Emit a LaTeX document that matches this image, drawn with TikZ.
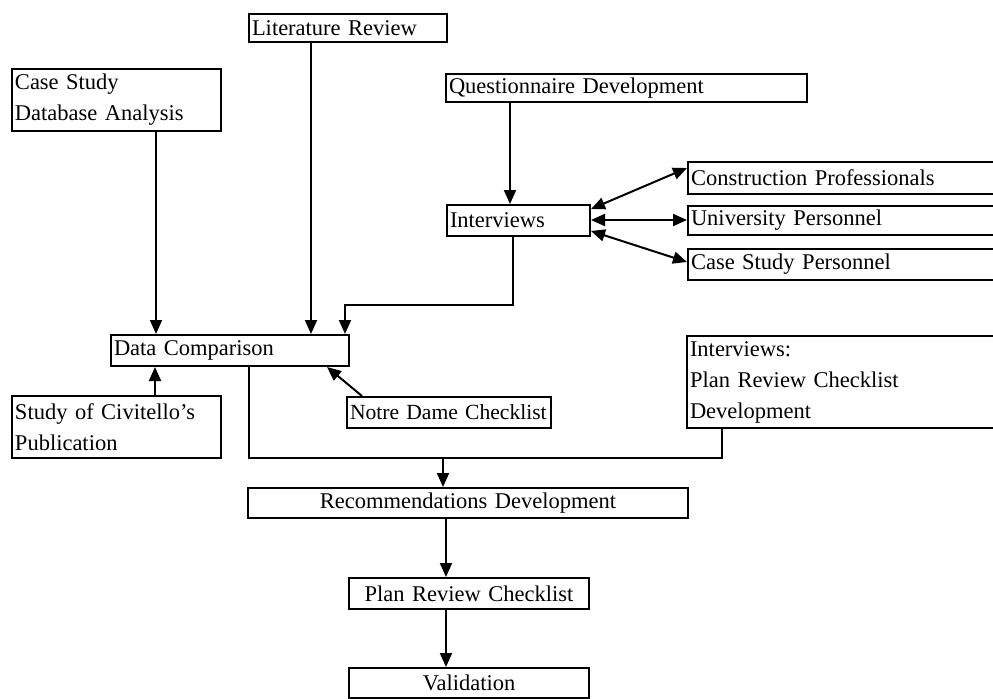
\documentclass[tikz,border=0pt]{standalone}
\usepackage{fontspec}
\setmainfont{Liberation Serif}
\usetikzlibrary{arrows.meta}
\hyphenpenalty=10000

\begin{document}
\begin{tikzpicture}[x=0.5pt,y=-0.5pt,
  font=\fontsize{11.25}{15.5}\selectfont,
  box/.style={draw,line width=1pt,anchor=north west,inner xsep=1.5pt,inner ysep=0pt,align=left},
  cbox/.style={box,align=center},
  arr/.style={line width=1pt,-{Triangle[length=7pt,width=6pt]}},
  dbl/.style={line width=1pt,{Triangle[length=7pt,width=6pt]}-{Triangle[length=7pt,width=6pt]}}]
  \useasboundingbox (0,0) rectangle (993,698);
  % boxes
  \node[box,text width=96pt,minimum height=14pt] (lit) at (248,13) {Literature Review};
  \node[box,text width=101.5pt,minimum height=31pt] (case) at (11,68) {Case Study\\Database Analysis};
  \node[box,text width=177.5pt,minimum height=14pt] (quest) at (445,73) {Questionnaire Development};
  \node[box,text width=68.5pt,minimum height=15.5pt] (int) at (446,204) {Interviews};
  \node[box,text width=153.5pt,minimum height=16pt] (cons) at (687,161) {Construction Professionals};
  \node[box,text width=153.5pt,minimum height=14.5pt] (univ) at (687,205) {University Personnel};
  \node[box,text width=153.5pt,minimum height=15.5pt] (csp) at (687,248) {Case Study Personnel};
  \node[box,text width=116pt,minimum height=15.5pt] (dc) at (110,334) {Data Comparison};
  \node[box,text width=101.5pt,minimum height=31pt] (civ) at (11,395) {Study of Civitello's\\Publication};
  \node[box,text width=99pt,minimum height=15.5pt,font=\fontsize{10.8}{15.5}\selectfont] (nd) at (346,396) {\mbox{Notre Dame Checklist}};
  \node[box,text width=154pt,minimum height=46pt] (iprc) at (686,335) {Interviews:\\Plan Review Checklist\\Development};
  \node[cbox,text width=217pt,minimum height=15pt] (rec) at (247,487) {Recommendations Development};
  \node[cbox,text width=117pt,minimum height=15.5pt] (prc) at (348,577) {Plan Review Checklist};
  \node[cbox,text width=117pt,minimum height=15pt] (val) at (348,667) {Validation};
  % connectors
  \coordinate (k1) at (345,305);
  \coordinate (k2) at (443,458);
  \draw[arr] (case.south -| 156,0) -- (dc.north -| 156,0);
  \draw[arr] (lit.south -| 311,0) -- (dc.north -| 311,0);
  \draw[arr] (quest.south -| 510,0) -- (int.north -| 510,0);
  \draw[arr] (int.south -| 513,0) |- (k1) -- (dc.north -| k1);
  \draw[arr] (civ.north -| 155,0) -- (dc.south -| 155,0);
  \draw[arr] (nd.north -| 362,0) -- (dc.south -| 327,0);
  \draw[line width=1pt] (dc.south -| 249,0) |- (k2) -| (iprc.south -| 722,0);
  \draw[arr] (k2) -- (rec.north -| k2);
  \draw[arr] (rec.south -| 446,0) -- (prc.north -| 446,0);
  \draw[arr] (prc.south -| 446,0) -- (val.north -| 446,0);
  \draw[dbl] (int.east |- 0,209) -- (cons.west |- 0,168);
  \draw[dbl] (int.east |- 0,220) -- (univ.west |- 0,220);
  \draw[dbl] (int.east |- 0,231) -- (csp.west |- 0,262);
\end{tikzpicture}
\end{document}
